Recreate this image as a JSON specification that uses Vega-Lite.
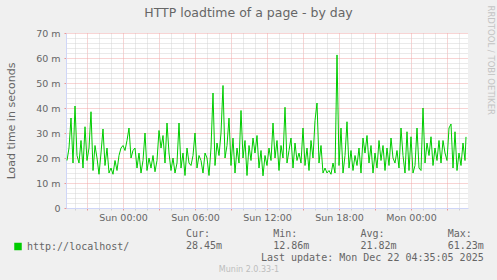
{
"$schema":"https://vega.github.io/schema/vega-lite/v6.json",
"width":402,"height":175,
"autosize":{"type":"none"},
"padding":{"left":66,"top":33,"right":29,"bottom":72},
"background":"#f0f0f0",
"title":{"text":"HTTP loadtime of a page - by day","font":"DejaVu Sans","fontSize":12.5,"fontWeight":"normal","color":"#666666","anchor":"middle","frame":"group","dx":-18.5,"offset":0,"dy":14.5},
"config":{"view":{"fill":"#ffffff","stroke":null},"font":"DejaVu Sans"},
"layer":[
{"data":{"values":[
{"time":"2025-12-20T19:20:00Z","load":19},{"time":"2025-12-20T19:30:00Z","load":24},{"time":"2025-12-20T19:40:00Z","load":36},{"time":"2025-12-20T19:50:00Z","load":18},
{"time":"2025-12-20T20:00:00Z","load":40.8},{"time":"2025-12-20T20:10:00Z","load":21},{"time":"2025-12-20T20:20:00Z","load":18},{"time":"2025-12-20T20:30:00Z","load":27},{"time":"2025-12-20T20:40:00Z","load":16},{"time":"2025-12-20T20:50:00Z","load":32.5},
{"time":"2025-12-20T21:00:00Z","load":19},{"time":"2025-12-20T21:10:00Z","load":24},{"time":"2025-12-20T21:20:00Z","load":38.5},{"time":"2025-12-20T21:30:00Z","load":15},{"time":"2025-12-20T21:40:00Z","load":25},{"time":"2025-12-20T21:50:00Z","load":20},
{"time":"2025-12-20T22:00:00Z","load":13.5},{"time":"2025-12-20T22:10:00Z","load":22},{"time":"2025-12-20T22:20:00Z","load":31.6},{"time":"2025-12-20T22:30:00Z","load":17},{"time":"2025-12-20T22:40:00Z","load":24},{"time":"2025-12-20T22:50:00Z","load":14},
{"time":"2025-12-20T23:00:00Z","load":16},{"time":"2025-12-20T23:10:00Z","load":13.5},{"time":"2025-12-20T23:20:00Z","load":19},{"time":"2025-12-20T23:30:00Z","load":15},{"time":"2025-12-20T23:40:00Z","load":21},{"time":"2025-12-20T23:50:00Z","load":24},
{"time":"2025-12-21T00:00:00Z","load":25},{"time":"2025-12-21T00:10:00Z","load":23},{"time":"2025-12-21T00:20:00Z","load":27},{"time":"2025-12-21T00:30:00Z","load":32},{"time":"2025-12-21T00:40:00Z","load":20},{"time":"2025-12-21T00:50:00Z","load":23},
{"time":"2025-12-21T01:00:00Z","load":24},{"time":"2025-12-21T01:10:00Z","load":16},{"time":"2025-12-21T01:20:00Z","load":22},{"time":"2025-12-21T01:30:00Z","load":14},{"time":"2025-12-21T01:40:00Z","load":19},{"time":"2025-12-21T01:50:00Z","load":30},
{"time":"2025-12-21T02:00:00Z","load":15},{"time":"2025-12-21T02:10:00Z","load":20},{"time":"2025-12-21T02:20:00Z","load":16},{"time":"2025-12-21T02:30:00Z","load":21},{"time":"2025-12-21T02:40:00Z","load":14.5},{"time":"2025-12-21T02:50:00Z","load":19},
{"time":"2025-12-21T03:00:00Z","load":31},{"time":"2025-12-21T03:10:00Z","load":24},{"time":"2025-12-21T03:20:00Z","load":29},{"time":"2025-12-21T03:30:00Z","load":18},{"time":"2025-12-21T03:40:00Z","load":34},{"time":"2025-12-21T03:50:00Z","load":22},
{"time":"2025-12-21T04:00:00Z","load":15},{"time":"2025-12-21T04:10:00Z","load":20},{"time":"2025-12-21T04:20:00Z","load":14},{"time":"2025-12-21T04:30:00Z","load":18},{"time":"2025-12-21T04:40:00Z","load":34},{"time":"2025-12-21T04:50:00Z","load":16},
{"time":"2025-12-21T05:00:00Z","load":22},{"time":"2025-12-21T05:10:00Z","load":13},{"time":"2025-12-21T05:20:00Z","load":24},{"time":"2025-12-21T05:30:00Z","load":18},{"time":"2025-12-21T05:40:00Z","load":17},{"time":"2025-12-21T05:50:00Z","load":21},
{"time":"2025-12-21T06:00:00Z","load":30},{"time":"2025-12-21T06:10:00Z","load":16},{"time":"2025-12-21T06:20:00Z","load":21},{"time":"2025-12-21T06:30:00Z","load":19},{"time":"2025-12-21T06:40:00Z","load":14},{"time":"2025-12-21T06:50:00Z","load":22},
{"time":"2025-12-21T07:00:00Z","load":20},{"time":"2025-12-21T07:10:00Z","load":13},{"time":"2025-12-21T07:20:00Z","load":24},{"time":"2025-12-21T07:30:00Z","load":46},{"time":"2025-12-21T07:40:00Z","load":17},{"time":"2025-12-21T07:50:00Z","load":26},
{"time":"2025-12-21T08:00:00Z","load":21},{"time":"2025-12-21T08:10:00Z","load":30},{"time":"2025-12-21T08:20:00Z","load":49},{"time":"2025-12-21T08:30:00Z","load":20},{"time":"2025-12-21T08:40:00Z","load":25},{"time":"2025-12-21T08:50:00Z","load":36},
{"time":"2025-12-21T09:00:00Z","load":17},{"time":"2025-12-21T09:10:00Z","load":28},{"time":"2025-12-21T09:20:00Z","load":14},{"time":"2025-12-21T09:30:00Z","load":24},{"time":"2025-12-21T09:40:00Z","load":18},{"time":"2025-12-21T09:50:00Z","load":39},
{"time":"2025-12-21T10:00:00Z","load":20},{"time":"2025-12-21T10:10:00Z","load":27},{"time":"2025-12-21T10:20:00Z","load":13},{"time":"2025-12-21T10:30:00Z","load":25},{"time":"2025-12-21T10:40:00Z","load":19},{"time":"2025-12-21T10:50:00Z","load":28},
{"time":"2025-12-21T11:00:00Z","load":22},{"time":"2025-12-21T11:10:00Z","load":29},{"time":"2025-12-21T11:20:00Z","load":16},{"time":"2025-12-21T11:30:00Z","load":23},{"time":"2025-12-21T11:40:00Z","load":12.86},{"time":"2025-12-21T11:50:00Z","load":21},
{"time":"2025-12-21T12:00:00Z","load":17},{"time":"2025-12-21T12:10:00Z","load":24},{"time":"2025-12-21T12:20:00Z","load":19},{"time":"2025-12-21T12:30:00Z","load":34},{"time":"2025-12-21T12:40:00Z","load":20},{"time":"2025-12-21T12:50:00Z","load":27},
{"time":"2025-12-21T13:00:00Z","load":15},{"time":"2025-12-21T13:10:00Z","load":25},{"time":"2025-12-21T13:20:00Z","load":20},{"time":"2025-12-21T13:30:00Z","load":40.3},{"time":"2025-12-21T13:40:00Z","load":18},{"time":"2025-12-21T13:50:00Z","load":23},
{"time":"2025-12-21T14:00:00Z","load":28},{"time":"2025-12-21T14:10:00Z","load":16},{"time":"2025-12-21T14:20:00Z","load":26},{"time":"2025-12-21T14:30:00Z","load":19},{"time":"2025-12-21T14:40:00Z","load":22},{"time":"2025-12-21T14:50:00Z","load":18},
{"time":"2025-12-21T15:00:00Z","load":32},{"time":"2025-12-21T15:10:00Z","load":17},{"time":"2025-12-21T15:20:00Z","load":24},{"time":"2025-12-21T15:30:00Z","load":15},{"time":"2025-12-21T15:40:00Z","load":27},{"time":"2025-12-21T15:50:00Z","load":20},
{"time":"2025-12-21T16:00:00Z","load":35},{"time":"2025-12-21T16:10:00Z","load":42},{"time":"2025-12-21T16:20:00Z","load":18},{"time":"2025-12-21T16:30:00Z","load":25},{"time":"2025-12-21T16:40:00Z","load":14},{"time":"2025-12-21T16:50:00Z","load":16},
{"time":"2025-12-21T17:00:00Z","load":14},{"time":"2025-12-21T17:10:00Z","load":15},{"time":"2025-12-21T17:20:00Z","load":13.5},{"time":"2025-12-21T17:30:00Z","load":18},{"time":"2025-12-21T17:40:00Z","load":14},{"time":"2025-12-21T17:50:00Z","load":61.23},
{"time":"2025-12-21T18:00:00Z","load":17},{"time":"2025-12-21T18:10:00Z","load":32},{"time":"2025-12-21T18:20:00Z","load":14},{"time":"2025-12-21T18:30:00Z","load":21},{"time":"2025-12-21T18:40:00Z","load":34.5},{"time":"2025-12-21T18:50:00Z","load":16},
{"time":"2025-12-21T19:00:00Z","load":23},{"time":"2025-12-21T19:10:00Z","load":15},{"time":"2025-12-21T19:20:00Z","load":21},{"time":"2025-12-21T19:30:00Z","load":17},{"time":"2025-12-21T19:40:00Z","load":24},{"time":"2025-12-21T19:50:00Z","load":14},
{"time":"2025-12-21T20:00:00Z","load":28},{"time":"2025-12-21T20:10:00Z","load":22},{"time":"2025-12-21T20:20:00Z","load":29},{"time":"2025-12-21T20:30:00Z","load":18},{"time":"2025-12-21T20:40:00Z","load":25},{"time":"2025-12-21T20:50:00Z","load":14},
{"time":"2025-12-21T21:00:00Z","load":22},{"time":"2025-12-21T21:10:00Z","load":16},{"time":"2025-12-21T21:20:00Z","load":27},{"time":"2025-12-21T21:30:00Z","load":19},{"time":"2025-12-21T21:40:00Z","load":25},{"time":"2025-12-21T21:50:00Z","load":15},
{"time":"2025-12-21T22:00:00Z","load":24},{"time":"2025-12-21T22:10:00Z","load":17},{"time":"2025-12-21T22:20:00Z","load":28},{"time":"2025-12-21T22:30:00Z","load":20},{"time":"2025-12-21T22:40:00Z","load":18},{"time":"2025-12-21T22:50:00Z","load":23},
{"time":"2025-12-21T23:00:00Z","load":16},{"time":"2025-12-21T23:10:00Z","load":32},{"time":"2025-12-21T23:20:00Z","load":21},{"time":"2025-12-21T23:30:00Z","load":14},{"time":"2025-12-21T23:40:00Z","load":30.5},{"time":"2025-12-21T23:50:00Z","load":15},
{"time":"2025-12-22T00:00:00Z","load":28.5},{"time":"2025-12-22T00:10:00Z","load":14},{"time":"2025-12-22T00:20:00Z","load":17},{"time":"2025-12-22T00:30:00Z","load":32},{"time":"2025-12-22T00:40:00Z","load":16},{"time":"2025-12-22T00:50:00Z","load":15},
{"time":"2025-12-22T01:00:00Z","load":40},{"time":"2025-12-22T01:10:00Z","load":18},{"time":"2025-12-22T01:20:00Z","load":26},{"time":"2025-12-22T01:30:00Z","load":21},{"time":"2025-12-22T01:40:00Z","load":28.5},{"time":"2025-12-22T01:50:00Z","load":17},
{"time":"2025-12-22T02:00:00Z","load":24},{"time":"2025-12-22T02:10:00Z","load":19},{"time":"2025-12-22T02:20:00Z","load":27},{"time":"2025-12-22T02:30:00Z","load":18},{"time":"2025-12-22T02:40:00Z","load":27},{"time":"2025-12-22T02:50:00Z","load":22},
{"time":"2025-12-22T03:00:00Z","load":19},{"time":"2025-12-22T03:10:00Z","load":32},{"time":"2025-12-22T03:20:00Z","load":33.6},{"time":"2025-12-22T03:30:00Z","load":16},{"time":"2025-12-22T03:40:00Z","load":30.5},{"time":"2025-12-22T03:50:00Z","load":15},
{"time":"2025-12-22T04:00:00Z","load":22},{"time":"2025-12-22T04:10:00Z","load":17},{"time":"2025-12-22T04:20:00Z","load":26},{"time":"2025-12-22T04:30:00Z","load":19},{"time":"2025-12-22T04:35:00Z","load":28.45}
]},
"layer":[
{"mark":{"type":"line","strokeWidth":1},
"encoding":{
"x":{"field":"time","type":"temporal",
"scale":{"type":"utc","domain":[1766258100000,1766378700000]},
"axis":{"values":[1766260800000,1766264400000,1766268000000,1766271600000,1766275200000,1766278800000,1766282400000,1766286000000,1766289600000,1766293200000,1766296800000,1766300400000,1766304000000,1766307600000,1766311200000,1766314800000,1766318400000,1766322000000,1766325600000,1766329200000,1766332800000,1766336400000,1766340000000,1766343600000,1766347200000,1766350800000,1766354400000,1766358000000,1766361600000,1766365200000,1766368800000,1766372400000,1766376000000],
"format":"%a %H:%M",
"labelExpr":"datum.value % 21600000 == 0 ? datum.label : ''",
"labelOverlap":false,"labelFlush":false,"labelFontSize":9.5,"labelColor":"#666666","labelPadding":2,
"tickSize":2,"tickColor":{"condition":{"test":"datum.value % 10800000 == 0","value":"#eb9696"},"value":"#d0d0d0"},
"domainColor":"#cfd6f8","grid":true,
"gridColor":{"condition":{"test":"datum.value % 10800000 == 0","value":"#f0a8a8"},"value":"#d4d4d4"},
"gridDash":[1,1],"gridWidth":1,
"title":"Munin 2.0.33-1","titleFont":"DejaVu Sans","titleFontSize":8,"titleFontWeight":"normal","titleColor":"#bdbdbd",
"titleX":182.5,"titleY":61,"titleAlign":"center","titleBaseline":"middle"}},
"y":{"field":"load","type":"quantitative","scale":{"domain":[0,70],"nice":false},
"axis":{"values":[0,2,4,6,8,10,12,14,16,18,20,22,24,26,28,30,32,34,36,38,40,42,44,46,48,50,52,54,56,58,60,62,64,66,68,70],
"labelExpr":"datum.value == 0 ? '0' : (datum.value % 10 == 0 ? datum.value + ' m' : '')",
"labelOverlap":false,"labelFlush":false,"labelFontSize":9.5,"labelColor":"#666666","labelPadding":4,
"tickSize":2,"tickColor":"#eb9696","tickOpacity":{"condition":{"test":"datum.value % 10 == 0","value":1},"value":0},
"domainColor":"#cfd6f8","grid":true,
"gridColor":{"condition":{"test":"datum.value % 10 == 0","value":"#f0a8a8"},"value":"#d4d4d4"},
"gridDash":[1,1],"gridWidth":1,
"title":"Load time in seconds","titleFontSize":11,"titleFontWeight":"normal","titleColor":"#666666",
"titleX":-54.5,"titleY":87.5,"titleAlign":"center","titleBaseline":"middle"}},
"color":{"datum":"http://localhost/","type":"nominal","scale":{"range":["#00cc00"]},
"legend":{"orient":"none","legendX":-53,"legendY":208.5,"title":null,"padding":0,"symbolType":"square","symbolSize":36,
"labelFont":"DejaVu Sans Mono","labelFontSize":10,"labelColor":"#666666","labelOffset":4,
"encode":{"symbols":{"update":{"fill":{"value":"#00cc00"},"stroke":{"value":"#00cc00"}}}}}}
}},
{"mark":{"type":"rule","opacity":0},
"encoding":{"y":{"datum":0,"type":"quantitative",
"axis":{"orient":"right","labels":false,"ticks":false,"domain":false,"grid":false,
"title":"RRDTOOL / TOBI OETIKER","titleFont":"DejaVu Sans","titleFontSize":8.5,"titleFontWeight":"normal","titleColor":"#c4c4c4",
"titleAngle":90,"titleX":22,"titleY":-28,"titleAlign":"left","titleBaseline":"middle"}}}}
],
"resolve":{"axis":{"y":"independent"}}
},
{"data":{"values":[
{"col":"Cur","row":"head","text":"Cur:"},{"col":"Min","row":"head","text":"Min:"},{"col":"Avg","row":"head","text":"Avg:"},{"col":"Max","row":"head","text":"Max:"},
{"col":"Cur","row":"value","text":"28.45m"},{"col":"Min","row":"value","text":"12.86m"},{"col":"Avg","row":"value","text":"21.82m"},{"col":"Max","row":"value","text":"61.23m"},
{"col":"Max","row":"update","text":"Last update: Mon Dec 22 04:35:05 2025"}
]},
"layer":[
{"transform":[{"filter":"datum.row != 'update'"}],
"mark":{"type":"text","font":"DejaVu Sans Mono","fontSize":10,"color":"#666666","align":"left","baseline":"middle"},
"encoding":{
"x":{"field":"col","type":"nominal","scale":{"type":"point","domain":["Cur","Min","Avg","Max"],"range":[120,381.7],"padding":0},"axis":null},
"y":{"field":"row","type":"nominal","scale":{"type":"point","domain":["head","value","update"],"range":[200.5,224.7],"padding":0},"axis":null},
"text":{"field":"text"}}},
{"transform":[{"filter":"datum.row == 'update'"}],
"mark":{"type":"text","font":"DejaVu Sans Mono","fontSize":10,"color":"#666666","align":"right","baseline":"middle","dx":36},
"encoding":{
"x":{"field":"col","type":"nominal","axis":null},
"y":{"field":"row","type":"nominal","axis":null},
"text":{"field":"text"}}}
]}
],
"resolve":{"scale":{"x":"independent","y":"independent","color":"independent"}}
}
